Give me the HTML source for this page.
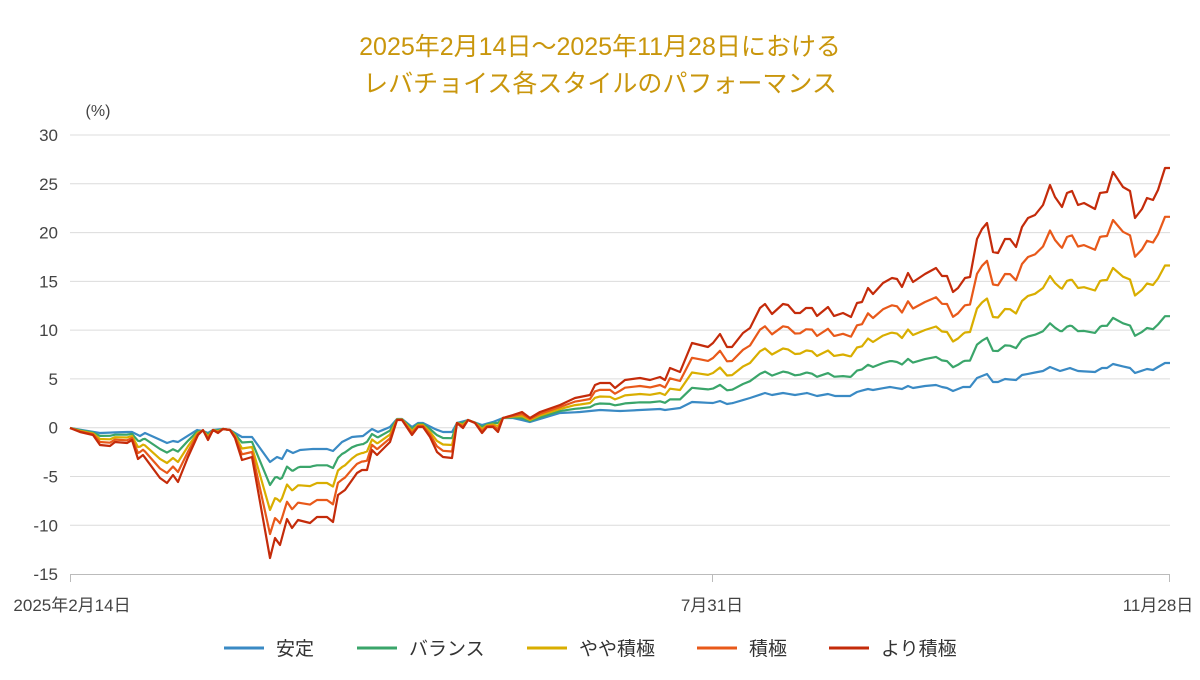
<!DOCTYPE html>
<html><head><meta charset="utf-8"><style>
html,body{margin:0;padding:0;background:#fff;width:1200px;height:680px;overflow:hidden}
svg{display:block;font-family:"Liberation Sans","Noto Sans CJK JP",sans-serif}
</style></head><body>
<svg id="s" width="1200" height="680" viewBox="0 0 1200 680">
<text x="600" y="55" text-anchor="middle" font-size="25" fill="#c9960c">2025年2月14日～2025年11月28日における</text>
<text x="600" y="92" text-anchor="middle" font-size="25" fill="#c9960c">レバチョイス各スタイルのパフォーマンス</text>
<text x="98" y="116" text-anchor="middle" font-size="16" fill="#444">(%)</text>
<g id="grid" stroke="#dcdcdc" stroke-width="1"></g>
<g id="yl" font-size="17" fill="#444" text-anchor="end"></g>
<line x1="70" y1="574.5" x2="1170" y2="574.5" stroke="#bbb"/>
<line x1="70.5" y1="574" x2="70.5" y2="582" stroke="#bbb"/>
<line x1="712.5" y1="574" x2="712.5" y2="582" stroke="#bbb"/>
<line x1="1169.5" y1="574" x2="1169.5" y2="582" stroke="#bbb"/>
<g font-size="17" fill="#444" text-anchor="middle">
<text x="72" y="611">2025年2月14日</text>
<text x="712" y="611">7月31日</text>
<text x="1158" y="611">11月28日</text>
</g>
<g id="lines" fill="none" stroke-width="2.2" stroke-linejoin="round"></g>
<g font-size="19" fill="#333">
<line x1="224" y1="648" x2="264" y2="648" stroke="#3a8ac4" stroke-width="3"/><text x="276" y="655">安定</text>
<line x1="357" y1="648" x2="397" y2="648" stroke="#3aa56a" stroke-width="3"/><text x="409" y="655">バランス</text>
<line x1="527" y1="648" x2="567" y2="648" stroke="#d9ae00" stroke-width="3"/><text x="579" y="655">やや積極</text>
<line x1="697" y1="648" x2="737" y2="648" stroke="#e8591a" stroke-width="3"/><text x="749" y="655">積極</text>
<line x1="829" y1="648" x2="869" y2="648" stroke="#c42b0a" stroke-width="3"/><text x="881" y="655">より積極</text>
</g>
</svg>
<script>
var NS="http://www.w3.org/2000/svg";
function el(t,a,p){var e=document.createElementNS(NS,t);for(var k in a)e.setAttribute(k,a[k]);p.appendChild(e);return e;}
var g=document.getElementById('grid'),yl=document.getElementById('yl');
for(var v=30;v>=-10;v-=5){var y=427.7-v*9.756;el('line',{x1:70,x2:1170,y1:y.toFixed(1),y2:y.toFixed(1)},g);}
for(var v=30;v>=-15;v-=5){var y=427.7-v*9.756;var t=el('text',{x:58,y:(y+6).toFixed(1)},yl);t.textContent=v;}
var red=[[70,428],[80,432],[93,435],[100,445],[110,446],[115,442],[127,443],[132,440],[138,459],[143,455],[160,478],[167,483],[173,475],[178,482],[188,457],[198,435],[203,430],[208,440],[213,430],[218,433],[223,429],[230,430],[235,438],[242,460],[252,457],[270,558],[275,538],[280,545],[287,519],[292,528],[298,520],[310,523],[317,517],[327,517],[333,522],[338,495],[345,490],[357,473],[362,470],[367,470],[372,450],[377,455],[390,442],[397,420],[402,420],[412,435],[418,427],[423,427],[430,437],[437,452],[443,457],[452,458],[457,423],[463,428],[468,420],[475,423],[482,433],[487,427],[493,427],[498,432],[503,418],[513,415],[522,412],[530,418],[540,412],[560,405],[575,398],[590,395],[595,385],[600,383],[610,383],[615,388],[625,380],[640,378],[650,380],[660,377],[665,380],[670,368],[680,372],[692,343],[700,345],[708,347],[713,343],[720,334],[727,347],[732,347],[743,333],[750,328],[760,308],[765,304],[772,314],[783,304],[788,305],[795,313],[800,313],[806,308],[812,308],[817,316],[828,307],[834,316],[843,313],[851,317],[857,303],[862,302],[868,288],[873,294],[883,283],[892,278],[897,279],[902,287],[908,273],[913,282],[925,274],[936,268],[942,276],[947,276],[953,292],[958,288],[965,278],[970,277],[977,239],[982,229],[987,223],[993,252],[998,253],[1005,239],[1010,239],[1016,247],[1022,227],[1028,218],[1035,215],[1043,205],[1050,185],[1055,197],[1062,207],[1067,193],[1072,191],[1078,205],[1084,203],[1095,209],[1100,193],[1107,192],[1113,172],[1123,187],[1130,191],[1135,218],[1142,209],[1147,198],[1153,200],[1158,190],[1165,168],[1170,168]];
var blue=[[70,428],[100,433],[127,432],[132,432],[140,436],[145,433],[167,443],[173,441],[178,442],[197,430],[203,431],[208,433],[213,430],[223,429],[230,430],[242,437],[252,437],[270,462],[277,457],[282,459],[287,450],[293,453],[300,450],[313,449],[327,449],[333,451],[342,442],[352,437],[363,436],[372,429],[378,432],[390,427],[397,419],[402,419],[412,427],[418,423],[423,423],[435,429],[443,432],[452,432],[457,423],[468,420],[482,425],[493,422],[503,418],[513,418],[530,422],[540,419],[560,413],[580,412],[600,410],[620,411],[640,410],[660,409],[665,410],[680,408],[692,402],[713,403],[720,401],[727,404],[733,403],[750,398],[765,393],[772,395],[783,393],[795,395],[807,393],[817,396],[828,394],[835,396],[850,396],[857,392],[868,389],[873,390],[890,387],[902,389],[908,386],[913,388],[925,386],[936,385],[942,387],[947,388],[953,391],[963,387],[970,387],[977,378],[987,374],[993,382],[998,382],[1005,379],[1016,380],[1022,375],[1043,371],[1050,367],[1060,371],[1070,368],[1078,371],[1095,372],[1102,368],[1107,368],[1113,364],[1130,368],[1135,373],[1147,369],[1153,370],[1158,367],[1165,363],[1170,363]];
function at(a,x){for(var i=1;i<a.length;i++){if(x<=a[i][0]){var p=a[i-1],q=a[i];var f=(x-p[0])/(q[0]-p[0]||1);return p[1]+f*(q[1]-p[1]);}}return a[a.length-1][1];}
var xs={};red.concat(blue).forEach(function(p){xs[p[0]]=1;});
var X=Object.keys(xs).map(Number).sort(function(a,b){return a-b;});
var series=[[0,'#3a8ac4'],[0.24,'#3aa56a'],[0.5,'#d9ae00'],[0.75,'#e8591a'],[1,'#c42b0a']];
var L=document.getElementById('lines');
series.forEach(function(s){var pts=X.map(function(x){var b=at(blue,x),r=at(red,x);return x+','+(b+(r-b)*s[0]).toFixed(1);}).join(' ');el('polyline',{points:pts,stroke:s[1]},L);});
</script>
</body></html>
